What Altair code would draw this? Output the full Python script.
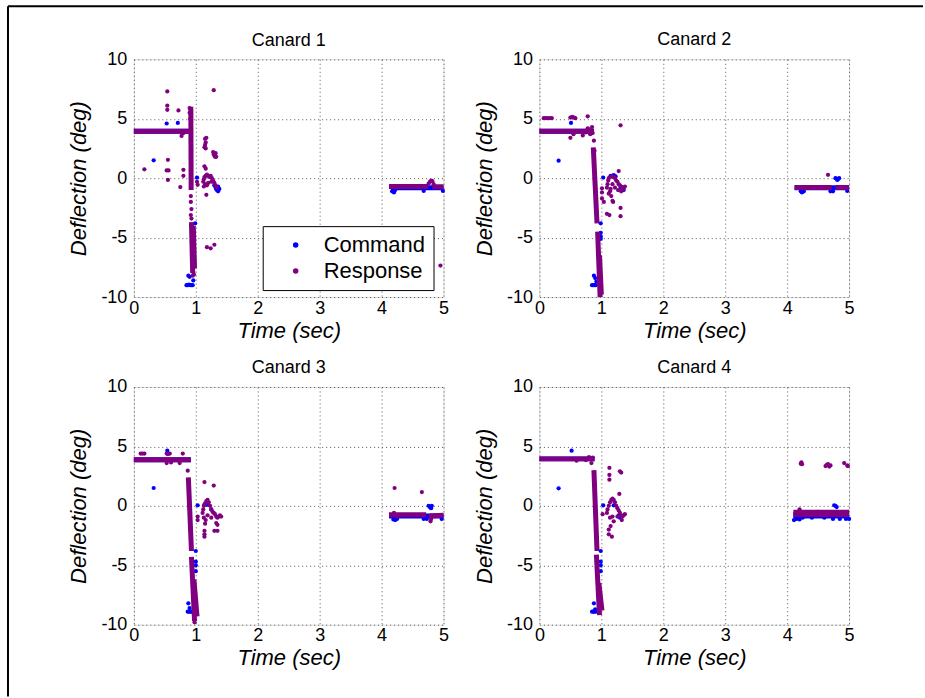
import altair as alt
import pandas as pd

# ---------------- data ----------------
SERIES = ["Command", "Response"]
COLORS = ["#0000ff", "#800080"]
TITLES = ["Canard 1", "Canard 2", "Canard 3", "Canard 4"]
T_TICKS = [0, 1, 2, 3, 4, 5]
Y_TICKS = [-10, -5, 0, 5, 10]

# dense runs of samples, as (t_start, y_start, t_end, y_end)
C1_CMD_SEGS = [(0.0, 3.95, 0.90, 3.95), (4.15, -0.8, 5.0, -0.8)]
C1_RESP_SEGS = [(0.0, 3.95, 0.90, 3.95), (0.92, 6.0, 0.925, -1.0), (0.93, -3.7, 0.95, -8.0),
                (0.96, -4.0, 0.98, -7.6), (4.12, -0.7, 4.75, -0.7), (4.82, -0.72, 5.0, -0.72)]
C1_CMD_PTS = [(0.53, 4.6), (0.71, 4.65), (0.32, 1.5), (0.85, -9.0), (0.87, -9.0), (0.89, -8.95),
              (0.91, -9.0), (0.93, -9.0), (0.95, -9.0), (0.88, -8.2), (0.90, -8.3), (0.96, -8.6),
              (0.99, -3.8), (1.02, 0.05), (1.30, -0.6), (1.32, -0.8), (1.34, -1.0), (1.36, -1.1),
              (1.38, -0.9), (1.36, -0.7), (1.33, -0.9), (4.17, -1.1), (4.20, -1.2), (4.22, -1.0),
              (4.68, -1.07), (4.99, -1.07)]
C1_RESP_PTS = [(0.54, 7.3), (0.54, 6.1), (0.54, 5.75), (0.72, 5.7), (0.17, 0.75), (0.55, 1.55),
               (0.53, 0.65), (0.56, 0.65), (0.55, -0.15), (0.75, -0.75), (0.80, 0.7), (0.80, 0.2),
               (0.77, 3.55), (0.80, 3.8), (0.90, 5.9), (0.90, 5.5), (0.91, 5.0), (0.92, -1.5),
               (0.92, -2.0), (0.93, -2.6), (0.92, -3.1), (0.93, -3.4), (0.95, -8.2), (0.97, -8.1),
               (1.03, -0.56), (1.02, -0.3), (1.14, 1.0), (1.16, 0.8), (1.17, -1.4), (1.18, -5.8),
               (1.24, -5.9), (1.30, -5.6), (1.29, 7.4), (1.15, 3.3), (1.16, 3.0), (1.15, 2.8),
               (1.14, 2.6), (1.16, 2.5), (1.17, 3.4), (1.28, 2.2), (1.29, 2.0), (1.30, 1.9),
               (1.31, 1.8), (1.32, 2.1), (1.33, 1.8), (1.12, -0.3), (1.13, -0.1), (1.14, 0.1),
               (1.16, 0.2), (1.18, 0.3), (1.20, 0.2), (1.22, 0.1), (1.24, 0.2), (1.26, 0.0),
               (1.28, -0.2), (1.30, -0.4), (1.32, -0.6), (1.15, -0.5), (1.18, -0.6), (1.20, -0.4),
               (1.13, -0.7), (1.34, -0.8), (1.25, -0.3), (4.76, -0.45), (4.78, -0.3), (4.80, -0.2),
               (4.82, -0.25), (4.84, -0.5), (4.95, -7.35)]

C2_CMD_SEGS = [(0.0, 3.95, 0.88, 3.95), (4.12, -0.8, 5.0, -0.8)]
C2_RESP_SEGS = [(0.0, 3.95, 0.88, 3.95), (0.87, 2.6, 0.93, -3.8), (0.94, -4.5, 0.98, -10.0),
                (0.97, -6.5, 1.0, -9.8), (4.12, -0.78, 4.72, -0.78), (4.78, -0.78, 5.0, -0.78)]
C2_CMD_PTS = [(0.51, 4.65), (0.31, 1.47), (0.85, -9.0), (0.87, -9.0), (0.89, -9.0), (0.91, -9.0),
              (0.88, -8.2), (0.90, -8.4), (0.92, -8.7), (0.99, -3.8), (0.99, -4.6), (0.99, -4.9),
              (0.99, -5.1), (1.03, 0.05), (1.15, 0.2), (1.18, 0.2), (1.20, 0.25), (1.23, 0.15),
              (1.31, -0.8), (1.34, -0.9), (1.36, -1.0), (4.22, -1.1), (4.24, -1.2), (4.27, -1.1),
              (4.70, -1.1), (4.74, -1.1), (4.78, 0.0), (4.80, -0.05), (4.82, -0.1), (4.84, 0.0),
              (4.81, -0.15), (4.97, -1.07)]
C2_RESP_PTS = [(0.07, 5.05), (0.10, 5.05), (0.13, 5.05), (0.17, 5.05), (0.20, 5.05), (0.50, 5.1),
               (0.53, 5.15), (0.56, 5.1), (0.58, 5.05), (0.78, 5.2), (0.50, 3.4), (0.55, 3.7),
               (0.70, 3.6), (0.75, 3.85), (0.78, 4.2), (0.80, 4.1), (0.82, 3.7), (0.85, 4.3),
               (0.86, 3.8), (0.88, 3.15), (0.89, 2.3), (1.01, -0.85), (1.01, -1.2), (1.01, -1.7),
               (1.04, -2.0), (1.09, -3.0), (1.13, -3.1), (1.19, -2.0), (1.28, 0.6), (1.31, 4.45),
               (1.31, -2.5), (1.31, -3.2), (1.12, -1.3), (1.14, -1.1), (1.16, -1.5), (1.18, -1.9),
               (1.09, -0.8), (1.10, -0.5), (1.11, -0.2), (1.12, 0.0), (1.14, 0.1), (1.17, 0.15),
               (1.20, 0.1), (1.22, 0.0), (1.24, -0.2), (1.26, -0.3), (1.28, -0.5), (1.30, -0.6),
               (1.32, -0.7), (1.34, -0.8), (1.36, -0.9), (1.38, -0.7), (1.27, -1.0), (1.22, -0.8),
               (1.18, -0.5), (1.15, -0.9), (1.32, -1.1), (4.66, 0.28)]

C3_CMD_SEGS = [(0.0, 3.88, 0.92, 3.88), (4.12, -0.85, 5.0, -0.85)]
C3_RESP_SEGS = [(0.0, 3.88, 0.92, 3.88), (0.88, 2.4, 0.93, -3.8), (0.93, -4.3, 0.98, -9.7),
                (0.97, -6.2, 1.02, -9.3), (4.12, -0.75, 4.72, -0.75), (4.76, -0.85, 5.0, -0.8)]
C3_CMD_PTS = [(0.54, 4.64), (0.32, 1.5), (0.87, -8.9), (0.89, -8.9), (0.91, -8.9), (0.93, -8.9),
              (0.95, -8.9), (0.88, -8.2), (0.90, -8.6), (1.00, -3.8), (1.00, -4.7), (1.00, -5.0),
              (1.00, -5.5), (1.03, 0.04), (1.14, 0.1), (1.17, 0.1), (1.20, 0.1), (1.25, -0.3),
              (4.19, -1.15), (4.22, -1.2), (4.25, -1.1), (4.76, 0.0), (4.78, -0.1), (4.80, -0.2),
              (4.81, 0.0), (4.79, -0.15), (4.68, -1.1), (4.73, -1.1), (4.97, -1.1)]
C3_RESP_PTS = [(0.11, 4.4), (0.14, 4.4), (0.17, 4.4), (0.53, 4.4), (0.55, 4.35), (0.58, 4.4),
               (0.79, 4.4), (0.53, 3.6), (0.74, 3.6), (0.60, 3.65), (0.87, 2.96), (1.03, -0.9),
               (1.03, -1.2), (1.14, 2.0), (1.29, 1.7), (1.14, -2.1), (1.14, -2.4), (1.14, -2.6),
               (1.30, -2.1), (1.35, -2.1), (1.33, -1.45), (1.35, -1.6), (0.98, -9.8), (1.11, -0.6),
               (1.12, -0.3), (1.13, 0.0), (1.15, 0.2), (1.17, 0.4), (1.19, 0.5), (1.21, 0.3),
               (1.23, 0.0), (1.25, -0.3), (1.27, -0.5), (1.29, -0.6), (1.31, -0.7), (1.33, -0.9),
               (1.35, -1.0), (1.37, -0.9), (1.39, -0.8), (1.41, -0.9), (1.13, -1.0), (1.15, -1.5),
               (1.16, -1.2), (1.19, -0.8), (1.25, -1.0), (4.21, 1.5), (4.65, 1.16), (4.79, -1.3),
               (4.80, -1.1), (4.20, -0.6), (4.25, -0.9)]

C4_CMD_SEGS = [(0.0, 3.95, 0.89, 3.95), (4.10, -0.85, 5.0, -0.85)]
C4_RESP_SEGS = [(0.0, 3.95, 0.89, 3.95), (0.88, 3.0, 0.93, -3.8), (0.92, -4.1, 0.97, -9.2),
                (0.96, -6.5, 1.01, -8.8), (4.10, -0.55, 5.0, -0.55), (4.10, -0.72, 5.0, -0.72)]
C4_CMD_PTS = [(0.52, 4.64), (0.31, 1.47), (0.85, -8.9), (0.87, -8.9), (0.89, -8.9), (0.91, -8.9),
              (0.88, -8.2), (0.90, -8.7), (0.99, -3.8), (0.99, -4.7), (0.99, -5.0), (0.99, -5.5),
              (1.03, 0.04), (1.20, 0.04), (1.28, -0.8), (1.30, -1.0), (4.11, -1.2), (4.15, -1.1),
              (4.20, -1.15), (4.25, -1.0), (4.40, -1.0), (4.60, -1.0), (4.76, 0.04), (4.78, 0.0),
              (4.80, -0.1), (4.74, -1.1), (4.85, -1.1), (4.95, -1.1), (5.0, -1.1)]
C4_RESP_PTS = [(0.60, 3.8), (0.75, 3.85), (0.80, 4.1), (0.84, 3.6), (0.86, 4.05), (1.02, -0.7),
               (1.13, 3.2), (1.13, 2.6), (1.13, 2.2), (1.30, 2.9), (1.32, 2.8), (1.29, 1.0),
               (1.12, -2.0), (1.12, -2.4), (1.17, -2.6), (1.15, -1.7), (1.09, -0.6), (1.10, -0.3),
               (1.12, 0.0), (1.14, 0.3), (1.16, 0.5), (1.18, 0.6), (1.20, 0.5), (1.22, 0.3),
               (1.24, 0.0), (1.26, -0.2), (1.28, -0.4), (1.30, -0.6), (1.32, -0.8), (1.34, -0.9),
               (1.36, -0.8), (1.38, -0.7), (1.33, -1.2), (1.14, -1.0), (1.18, -0.9), (1.20, -1.3),
               (1.26, -0.9), (4.22, 3.55), (4.23, 3.65), (4.24, 3.5), (4.62, 3.35), (4.64, 3.45),
               (4.66, 3.5), (4.68, 3.3), (4.70, 3.4), (4.92, 3.6), (4.97, 3.4), (4.98, 3.35),
               (4.20, -0.3), (4.50, -0.5)]

PANELS = [
    (C1_CMD_SEGS, C1_CMD_PTS, C1_RESP_SEGS, C1_RESP_PTS),
    (C2_CMD_SEGS, C2_CMD_PTS, C2_RESP_SEGS, C2_RESP_PTS),
    (C3_CMD_SEGS, C3_CMD_PTS, C3_RESP_SEGS, C3_RESP_PTS),
    (C4_CMD_SEGS, C4_CMD_PTS, C4_RESP_SEGS, C4_RESP_PTS),
]

# ---------------- style ----------------
FONT = "Liberation Sans"
W, H = 310, 238


def seg_df(segs, series):
    return pd.DataFrame([{"t": a, "y": b, "t2": c, "y2": d, "series": series} for a, b, c, d in segs])


def pts_df(pts, series):
    return pd.DataFrame([{"t": a, "y": b, "series": series} for a, b in pts])


def panel(idx, cmd_segs, cmd_pts, resp_segs, resp_pts):
    xs = alt.Scale(domain=[0, 5], nice=False, zero=False)
    ys = alt.Scale(domain=[-10, 10], nice=False, zero=False)
    cs = alt.Scale(domain=SERIES, range=COLORS)
    xax = alt.Axis(values=T_TICKS, title="Time (sec)", labelFontSize=18, titleFontSize=22,
                   titleFontStyle="italic", titleFontWeight="normal", labelPadding=2,
                   titlePadding=3, ticks=False, domain=False, gridDash=[1, 3], labelFlush=False,
                   gridColor="#555555", labelColor="black", titleColor="black", labelFont=FONT,
                   titleFont=FONT)
    yax = alt.Axis(values=Y_TICKS, title="Deflection (deg)", labelFontSize=18, titleFontSize=22,
                   titleFontStyle="italic", titleFontWeight="normal", labelPadding=7,
                   titlePadding=10, ticks=False, domain=False, gridDash=[1, 3], labelFlush=False,
                   gridColor="#555555", labelColor="black", titleColor="black",
                   labelExpr="'' + datum.value", labelFont=FONT, titleFont=FONT)
    if idx == 0:
        legend = alt.Legend(title=None, orient="none", legendX=129, legendY=167,
                            strokeColor="black", fillColor="white", padding=8,
                            labelFontSize=22, labelFont=FONT, labelColor="black",
                            symbolType="circle", symbolSize=16, symbolOffset=14,
                            labelOffset=17, rowPadding=4, cornerRadius=0)
    else:
        legend = None

    def seg_layer(df):
        return alt.Chart(df).mark_rule(strokeWidth=5).encode(
            x=alt.X("t:Q", scale=xs, axis=xax), x2="t2:Q",
            y=alt.Y("y:Q", scale=ys, axis=yax), y2="y2:Q",
            color=alt.Color("series:N", scale=cs, legend=None))

    def pts_layer(df):
        return alt.Chart(df).mark_circle(size=18, opacity=1).encode(
            x=alt.X("t:Q", scale=xs, axis=xax),
            y=alt.Y("y:Q", scale=ys, axis=yax),
            color=alt.Color("series:N", scale=cs, legend=legend))

    layers = [pts_layer(pts_df(cmd_pts, "Command")), seg_layer(seg_df(cmd_segs, "Command")),
              seg_layer(seg_df(resp_segs, "Response")), pts_layer(pts_df(resp_pts, "Response"))]
    title_offset = -13
    if idx == 0:
        # figure frame (top and left edges of the window)
        frame_left = alt.Chart(pd.DataFrame({"k": [0]})).mark_rule(color="black", strokeWidth=2).encode(
            x=alt.value(-126), y=alt.value(-53), y2=alt.value(638))
        frame_top = alt.Chart(pd.DataFrame({"k": [0]})).mark_rule(color="black", strokeWidth=2).encode(
            x=alt.value(-126), x2=alt.value(790), y=alt.value(-53))
        layers += [frame_left, frame_top]
        title_offset = -59
    return alt.layer(*layers).properties(
        width=W, height=H,
        title=alt.TitleParams(TITLES[idx], fontSize=18, fontWeight="normal", font=FONT,
                              color="black", anchor="middle", frame="group",
                              baseline="alphabetic", offset=title_offset))


charts = [panel(i, *p) for i, p in enumerate(PANELS)]

chart = alt.concat(*charts, columns=2, spacing=alt.RowColnumber(row=90, column=96)).resolve_scale(
    color="independent"
).properties(
    bounds="flush", padding={"left": 6, "top": 4, "right": 0, "bottom": 0}
).configure_view(stroke="#666666", strokeWidth=1).configure(font=FONT, background="white")

chart.save("out.html", embed_options={"renderer": "svg", "actions": False})
